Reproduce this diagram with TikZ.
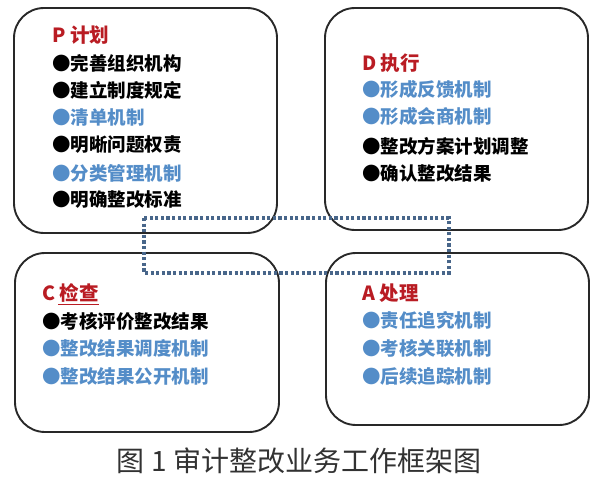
\documentclass[tikz,border=0pt]{standalone}
\usepackage{fontspec}
\newfontfamily\cjk{Noto Sans CJK SC}
\definecolor{redt}{RGB}{185,28,35}
\definecolor{bluet}{RGB}{84,141,200}
\definecolor{dotc}{RGB}{72,102,138}
\definecolor{edgec}{RGB}{40,40,40}
\definecolor{capc}{RGB}{50,50,50}
\begin{document}
\begin{tikzpicture}[x=1pt,y=-1pt,
  box/.style={draw=edgec,line width=1.9pt,rounded corners=30pt,inner sep=0pt},
  ttl/.style={anchor=west,inner sep=0pt,text=redt,font=\cjk\bfseries\fontsize{19.5}{19.5}\selectfont},
  blk/.style={anchor=west,inner sep=0pt,text=black,font=\cjk\bfseries\fontsize{18.5}{18.5}\selectfont},
  blu/.style={anchor=west,inner sep=0pt,text=bluet,font=\cjk\bfseries\fontsize{18.5}{18.5}\selectfont},
  dotline/.style={draw=dotc,line width=3.2pt,dash pattern=on 3.2pt off 2.4pt}]
\useasboundingbox (0,0) rectangle (600,483);
% boxes
\node[box,minimum width=263pt,minimum height=225pt] (P) at (145.5,120.5) {};
\node[box,minimum width=263pt,minimum height=222pt] (D) at (456.5,119) {};
\node[box,minimum width=264pt,minimum height=179pt] (C) at (147,342.5) {};
\node[box,minimum width=263pt,minimum height=172pt] (A) at (457.5,339) {};
% dotted rectangle
\coordinate (r1) at (144,218);
\coordinate (r2) at (449,273);
\draw[dotline] (r1) rectangle (r2);
% P
\node[ttl] (p0) at (52,35) {P 计划};
\node[blk] (p1) at (52,63) {●完善组织机构};
\node[blk] (p2) at (52,90) {●建立制度规定};
\node[blu] (p3) at (52,117) {●清单机制};
\node[blk] (p4) at (52,145) {●明晰问题权责};
\node[blu] (p5) at (52,173) {●分类管理机制};
\node[blk] (p6) at (52,200) {●明确整改标准};
% D
\node[ttl] (d0) at (362,63) {D 执行};
\node[blu] (d1) at (362,89) {●形成反馈机制};
\node[blu] (d2) at (362,116) {●形成会商机制};
\node[blk] (d3) at (362,146) {●整改方案计划调整};
\node[blk] (d4) at (362,173) {●确认整改结果};
% C
\node[ttl] (c0) at (42,293) {C 检查};
\draw[redt,line width=0.9pt] ([xshift=16pt,yshift=-2pt]c0.south west) -- ([yshift=-2pt]c0.south east);
\node[blk] (c1) at (42,321) {●考核评价整改结果};
\node[blu] (c2) at (42,348) {●整改结果调度机制};
\node[blu] (c3) at (42,376) {●整改结果公开机制};
% A
\node[ttl] (a0) at (362,293) {A 处理};
\node[blu] (a1) at (362,320) {●责任追究机制};
\node[blu] (a2) at (362,348) {●考核关联机制};
\node[blu] (a3) at (362,376) {●后续追踪机制};
% caption
\node[inner sep=0pt,text=capc,font=\cjk\fontsize{28}{28}\selectfont] (cap) at (299,461) {图 1 审计整改业务工作框架图};
\end{tikzpicture}
\end{document}
